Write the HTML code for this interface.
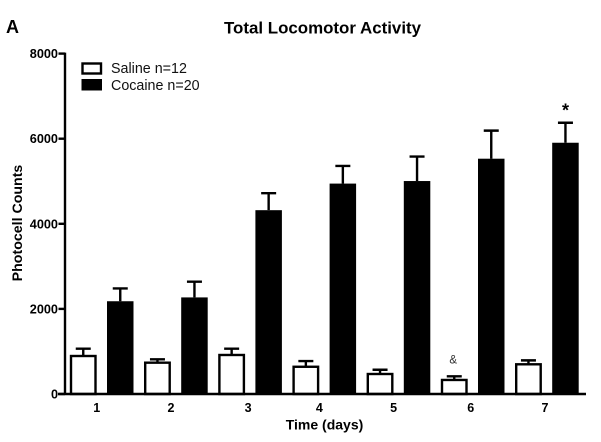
<!DOCTYPE html>
<html>
<head>
<meta charset="utf-8">
<title>Total Locomotor Activity</title>
<style>
html,body{margin:0;padding:0;background:#fff;width:601px;height:442px;overflow:hidden}
svg{display:block;font-family:"Liberation Sans",sans-serif;color:#000}
</style>
</head>
<body>
<svg id="chart" width="601" height="442" viewBox="0 0 601 442">
  <text x="6" y="33" font-size="18" font-weight="bold">A</text>
  <text x="322.5" y="33.5" font-size="16.9" font-weight="bold" text-anchor="middle">Total Locomotor Activity</text>
  <text transform="translate(22,223) rotate(-90)" font-size="14.2" font-weight="bold" text-anchor="middle">Photocell Counts</text>
  <text x="324.5" y="429.5" font-size="14" font-weight="bold" text-anchor="middle">Time (days)</text>
  <rect x="82.5" y="63.5" width="18.5" height="10" fill="#fff" stroke="#000" stroke-width="2.4"/>
  <rect x="81.5" y="79" width="20.5" height="11.5" fill="#000"/>
  <text x="111" y="73" font-size="14.3" fill="#111">Saline n=12</text>
  <text x="111" y="90" font-size="14.3" fill="#111">Cocaine n=20</text>
  <g id="marks"></g>
  <g id="axes"></g>
</svg>
<script>
const categories = ["1", "2", "3", "4", "5", "6", "7"];
const salineValues = [893, 736, 917, 640, 470, 330, 698];
const salineErrors = [172, 79, 148, 135, 100, 85, 92];
const cocaineValues = [2180, 2270, 4320, 4945, 5005, 5530, 5905];
const cocaineErrors = [300, 370, 400, 415, 575, 660, 470];
const yTicks = [0, 2000, 4000, 6000, 8000];
const annotationSymbols = ["&", "*"];

const svgNS = "http://www.w3.org/2000/svg";
const marks = document.getElementById("marks");
const axes = document.getElementById("axes");
const yScale = v => 394 - v * 0.04255;
const salineX = i => 70 + i * 74.2;
const cocaineX = i => 107 + i * 74.2;
const barWidth = 26.5;
const lineWeight = 2.4;
const tickNudge = [0, 0, 3, 0, 0, 3, 3];

function make(tag, attrs, parent) {
  const el = document.createElementNS(svgNS, tag);
  for (const k in attrs) el.setAttribute(k, attrs[k]);
  parent.appendChild(el);
  return el;
}

categories.forEach(function (cat, i) {
  const sx = salineX(i), cx = cocaineX(i);
  const sMid = sx + barWidth / 2, cMid = cx + barWidth / 2;

  const sErr = make("path", {
    d: "M" + sMid + " " + yScale(salineValues[i]) + "V" + yScale(salineValues[i] + salineErrors[i]) +
       "M" + (sMid - 7.5) + " " + yScale(salineValues[i] + salineErrors[i]) + "h15",
    stroke: "#000", "stroke-width": lineWeight, fill: "none"
  }, marks);
  
  

  const sBar = make("rect", {
    x: sx + 1, y: yScale(salineValues[i]),
    width: barWidth - 2, height: yScale(0) - yScale(salineValues[i]),
    fill: "#fff", stroke: "#000", "stroke-width": lineWeight
  }, marks);
  
  

  const cErr = make("path", {
    d: "M" + cMid + " " + yScale(cocaineValues[i]) + "V" + yScale(cocaineValues[i] + cocaineErrors[i]) +
       "M" + (cMid - 7.5) + " " + yScale(cocaineValues[i] + cocaineErrors[i]) + "h15",
    stroke: "#000", "stroke-width": lineWeight, fill: "none"
  }, marks);
  
  

  const cBar = make("rect", {
    x: cx, y: yScale(cocaineValues[i]),
    width: barWidth, height: yScale(0) - yScale(cocaineValues[i]),
    fill: "#000"
  }, marks);
  
  

  const label = make("text", {
    x: (sx + cx + barWidth) / 2 - 5 + tickNudge[i], y: 412,
    "font-size": 12.5, "font-weight": "bold", "text-anchor": "middle"
  }, axes);
  label.textContent = cat;
  
  
});

const yAxis = make("path", {
  d: "M65 " + (yScale(8000) - 1) + "V" + (yScale(0) + 1),
  stroke: "#000", "stroke-width": lineWeight, fill: "none"
}, axes);



const xAxis = make("path", {
  d: "M58 " + yScale(0) + "H586",
  stroke: "#000", "stroke-width": lineWeight, fill: "none"
}, axes);



yTicks.forEach(function (t) {
  const tick = make("path", {
    d: "M58.5 " + yScale(t) + "H65",
    stroke: "#000", "stroke-width": lineWeight, fill: "none"
  }, axes);
  
  

  const label = make("text", {
    x: 58, y: yScale(t) + 4.5,
    "font-size": 12.7, "font-weight": "bold", "text-anchor": "end"
  }, axes);
  label.textContent = String(t);
  
  
});

const amp = make("text", {
  x: salineX(5) + barWidth / 2 - 1, y: yScale(salineValues[5] + salineErrors[5]) - 13,
  "font-size": 11.5, "text-anchor": "middle", fill: "#333"
}, marks);
amp.textContent = annotationSymbols[0];



const star = make("text", {
  x: cocaineX(6) + barWidth / 2, y: yScale(cocaineValues[6] + cocaineErrors[6]) - 6,
  "font-size": 18, "font-weight": "bold", "text-anchor": "middle"
}, marks);
star.textContent = annotationSymbols[1];


</script>
</body>
</html>
